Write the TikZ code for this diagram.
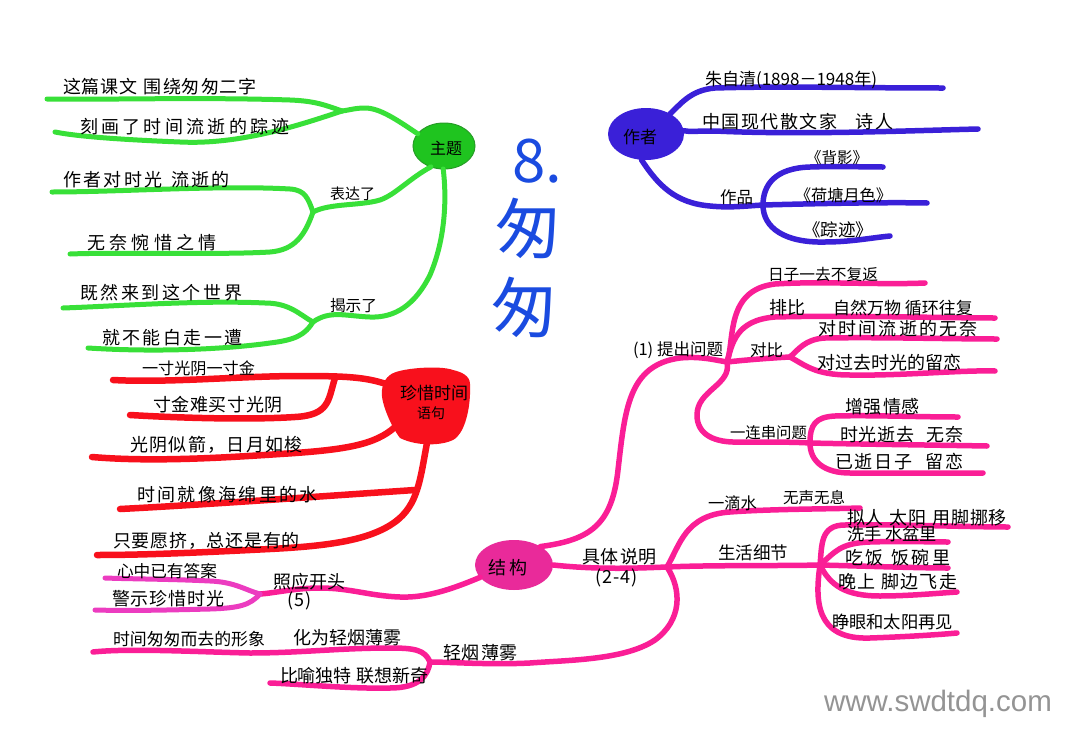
\documentclass[tikz,border=0pt]{standalone}
\usepackage{fontspec}
\usepackage{graphicx}
\setmainfont{Noto Sans CJK SC}
\newfontfamily\wmfont{Liberation Sans}
\usetikzlibrary{shapes.geometric}
\definecolor{grn}{HTML}{38E038}
\definecolor{grnd}{HTML}{1FC41F}
\definecolor{pur}{HTML}{3A20D8}
\definecolor{redc}{HTML}{F8101C}
\definecolor{pnk}{HTML}{FA1E96}
\definecolor{pnkb}{HTML}{E92A9A}
\definecolor{mag}{HTML}{EC3CC0}
\definecolor{ttl}{HTML}{1A4BE0}
\tikzset{
  gb/.style={draw=grn,line width=5pt,line cap=round,line join=round},
  ub/.style={draw=pur,line width=5.5pt,line cap=round,line join=round},
  rb/.style={draw=redc,line width=6.5pt,line cap=round,line join=round},
  pb/.style={draw=pnk,line width=5.5pt,line cap=round,line join=round},
  mb/.style={draw=mag,line width=5pt,line cap=round,line join=round},
  lab/.style={anchor=west,inner sep=0pt,outer sep=0pt,text=black},
  hub/.style={ellipse,inner sep=0pt,outer sep=0pt,text=black},
  titletext/.style={text=ttl,inner sep=0pt,font=\fontsize{66}{66}\selectfont},
}
\newsavebox{\lblbox}
\newcommand{\lblfont}{\fontsize{18}{18}\selectfont}
\def\spr#1{\ifx#1\relax\unskip\else#1\hfil\expandafter\spr\fi}
\newcommand{\lbl}[5]{%
  \pgfmathsetlengthmacro{\lblw}{#3-#2}%
  \node[lab] (#1) at (#2,#4) {\lblfont\sbox{\lblbox}{\spr#5\relax}%
    \ifdim\wd\lblbox>\lblw\relax
      \resizebox{\lblw}{!}{\usebox{\lblbox}}%
    \else
      \makebox[\lblw][s]{\spr#5\relax}%
    \fi};}
\begin{document}
\begin{tikzpicture}[x=1pt,y=-1pt]
\useasboundingbox (0,0) rectangle (1080,747);
\fill[white] (0,0) rectangle (1080,747);

% hubs
\node[hub,fill=grnd,draw=grn!70!black,line width=1pt,minimum width=62pt,minimum height=46pt] (zt) at (444,146) {};
\node[hub,fill=pur,minimum width=76pt,minimum height=52pt] (zz) at (646,134) {};
\node[hub,fill=pnkb,minimum width=78pt,minimum height=50pt] (jg) at (514,565) {};
\fill[redc] (390,375) .. controls (398,368) and (440,365) .. (453,370)
  .. controls (462,372) and (470,376) .. (470,384)
  .. controls (471,405) and (466,428) .. (457,437)
  .. controls (450,445) and (420,448) .. (400,438)
  .. controls (390,425) and (380,400) .. (382,390)
  .. controls (383,382) and (386,378) .. (390,375) -- cycle;
\node[inner sep=0pt,minimum width=86pt,minimum height=76pt] (zx) at (426,406) {};

% junctions
\coordinate (g1) at (342,111);
\coordinate (g2) at (313,212);
\coordinate (g3) at (313,322);
\coordinate (u1) at (763,205);
\coordinate (p1) at (727,362);
\coordinate (p2) at (790,357);
\coordinate (p3) at (810,443);
\coordinate (p4) at (667,567);
\coordinate (p5) at (820,565);
\coordinate (m1) at (260,594);
\coordinate (p6) at (430,662);
\coordinate (r1) at (335,378);
\coordinate (r2) at (415,490);
\coordinate (ra) at (386,384);
\coordinate (rb1) at (395,427);
\coordinate (rc) at (427,443);

% free ends
\coordinate (ge1) at (47,99);
\coordinate (ge2) at (55,132);
\coordinate (ge3) at (52,192);
\coordinate (ge4) at (70,254);
\coordinate (ge5) at (63,308);
\coordinate (ge6) at (88,348);
\coordinate (ue1) at (943,88);
\coordinate (ue2) at (978,129);
\coordinate (ue3) at (883,167);
\coordinate (ue4) at (927,203);
\coordinate (ue5) at (890,236);
\coordinate (pe1) at (925,283);
\coordinate (pe2) at (995,318);
\coordinate (pe3) at (997,339);
\coordinate (pe4) at (995,371);
\coordinate (pe5) at (958,417);
\coordinate (pe6) at (987,446);
\coordinate (pe7) at (983,473);
\coordinate (pe8) at (860,508);
\coordinate (pe9) at (1008,527);
\coordinate (pe10) at (948,542);
\coordinate (pe11) at (948,568);
\coordinate (pe12) at (957,592);
\coordinate (pe13) at (957,633);
\coordinate (pe14) at (105,578);
\coordinate (pe15) at (95,610);
\coordinate (pe16) at (93,652);
\coordinate (pe17) at (270,683);
\coordinate (re1) at (113,380);
\coordinate (re2) at (130,415);
\coordinate (re3) at (92,457);
\coordinate (re4) at (120,509);
\coordinate (re5) at (97,555);

% green connectors
\draw[gb] (zt.155) .. controls (397,120) and (380,108) .. (365,108) .. controls (355,108) and (350,110) .. (g1);
\draw[gb] (g1) .. controls (325,105) and (315,101) .. (290,100) .. controls (200,97) and (100,100) .. (ge1);
\draw[gb] (g1) .. controls (300,125) and (240,145) .. (180,142) .. controls (130,140) and (80,137) .. (ge2);
\draw[gb] (zt.238) .. controls (410,178) and (395,195) .. (380,200) .. controls (360,206) and (330,203) .. (g2);
\draw[gb] (g2) .. controls (308,198) and (305,190) .. (290,189) .. controls (220,185) and (120,192) .. (ge3);
\draw[gb] (g2) .. controls (305,235) and (295,250) .. (270,252) .. controls (220,255) and (120,252) .. (ge4);
\draw[gb] (zt.268) .. controls (447,200) and (445,240) .. (430,275) .. controls (415,305) and (395,318) .. (370,317) .. controls (345,316) and (330,310) .. (g3);
\draw[gb] (g3) .. controls (300,315) and (290,303) .. (265,303) .. controls (200,300) and (120,306) .. (ge5);
\draw[gb] (g3) .. controls (305,335) and (295,340) .. (270,343) .. controls (220,350) and (150,352) .. (ge6);

% purple connectors
\draw[ub] (zz.40) .. controls (680,105) and (690,90) .. (715,88) .. controls (780,86) and (860,88) .. (ue1);
\draw[ub] (zz.5) .. controls (690,132) and (695,131) .. (715,131) .. controls (800,135) and (900,131) .. (ue2);
\draw[ub] (zz.260) .. controls (658,185) and (675,203) .. (710,206) .. controls (730,208) and (745,206) .. (u1);
\draw[ub] (u1) .. controls (763,185) and (775,168) .. (810,167) .. controls (840,166) and (860,167) .. (ue3);
\draw[ub] (u1) .. controls (800,204) and (880,202) .. (ue4);
\draw[ub] (u1) .. controls (763,228) and (785,243) .. (825,242) .. controls (850,242) and (870,238) .. (ue5);

% pink connectors
\draw[pb] (jg.35) .. controls (590,540) and (612,525) .. (618,470) .. controls (625,410) and (628,365) .. (680,358) .. controls (700,356) and (715,360) .. (p1);
\draw[pb] (p1) .. controls (735,340) and (725,290) .. (775,284) .. controls (820,281) and (880,285) .. (pe1);
\draw[pb] (p1) .. controls (732,345) and (735,320) .. (775,317) .. controls (850,315) and (940,318) .. (pe2);
\draw[pb] (p1) .. controls (745,360) and (770,358) .. (p2);
\draw[pb] (p2) .. controls (798,350) and (805,339) .. (825,338) .. controls (880,337) and (950,339) .. (pe3);
\draw[pb] (p2) .. controls (805,365) and (815,375) .. (850,375) .. controls (900,376) and (960,370) .. (pe4);
\draw[pb] (p1) .. controls (732,385) and (697,390) .. (697,415) .. controls (697,435) and (715,443) .. (740,442) .. controls (770,442) and (795,442) .. (p3);
\draw[pb] (p3) .. controls (810,425) and (815,417) .. (835,416) .. controls (870,415) and (920,417) .. (pe5);
\draw[pb] (p3) .. controls (850,444) and (930,445) .. (pe6);
\draw[pb] (p3) .. controls (810,462) and (825,473) .. (850,473) .. controls (890,473) and (950,473) .. (pe7);
\draw[pb] (jg.0) .. controls (600,570) and (640,568) .. (p4);
\draw[pb] (p4) .. controls (680,545) and (685,515) .. (730,512) .. controls (770,509) and (830,509) .. (pe8);
\draw[pb] (p4) .. controls (710,565) and (780,566) .. (p5);
\draw[pb] (p5) .. controls (822,545) and (820,525) .. (845,525) .. controls (890,524) and (970,527) .. (pe9);
\draw[pb] (p5) .. controls (835,552) and (840,543) .. (870,542) .. controls (900,541) and (930,542) .. (pe10);
\draw[pb] (p5) .. controls (860,566) and (920,568) .. (pe11);
\draw[pb] (p5) .. controls (830,585) and (845,596) .. (880,596) .. controls (910,596) and (940,593) .. (pe12);
\draw[pb] (p5) .. controls (815,600) and (815,640) .. (870,638) .. controls (900,637) and (935,635) .. (pe13);
\draw[pb] (p4) .. controls (682,590) and (682,620) .. (655,640) .. controls (625,660) and (570,660) .. (530,663) .. controls (490,665) and (450,662) .. (p6);
\draw[pb] (jg.200) .. controls (450,590) and (425,598) .. (400,597) .. controls (370,596) and (350,588) .. (320,588) .. controls (295,588) and (275,593) .. (m1);
\draw[mb] (m1) .. controls (245,590) and (235,582) .. (210,581) .. controls (170,579) and (130,579) .. (pe14);
\draw[mb] (m1) .. controls (250,605) and (240,608) .. (210,609) .. controls (170,610) and (130,611) .. (pe15);
\draw[pb] (p6) .. controls (425,650) and (415,648) .. (390,648) .. controls (340,648) and (300,653) .. (250,653) .. controls (200,652) and (130,648) .. (pe16);
\draw[pb] (p6) .. controls (428,675) and (420,688) .. (390,688) .. controls (350,689) and (300,684) .. (pe17);

% red connectors
\draw[rb] (ra) .. controls (365,377) and (345,376) .. (300,376) .. controls (240,376) and (170,383) .. (re1);
\draw[rb] (r1) .. controls (328,400) and (330,415) .. (295,417) .. controls (250,420) and (180,418) .. (re2);
\draw[rb] (rb1) .. controls (375,445) and (345,450) .. (280,454) .. controls (220,458) and (150,462) .. (re3);
\draw[rb] (rc) .. controls (420,480) and (418,505) .. (395,522) .. controls (370,540) and (330,546) .. (270,549) .. controls (210,552) and (150,555) .. (re5);
\draw[rb] (r2) .. controls (340,495) and (200,505) .. (re4);

% hub labels
\lbl{tzt}{430}{462}{148}{主题}
\lbl{tzz}{623}{657}{137}{作者}
\lbl{tjg}{488}{528}{568}{结构}
\lbl{tzx1}{400}{468}{393}{珍惜时间}
\lbl{tzx2}{417}{445}{413}{语句}

% green labels
\lbl{a1}{63}{257}{87}{这篇课文~围绕匆匆二字}
\lbl{a2}{80}{290}{127}{刻画了时间流逝的踪迹}
\lbl{a3}{63}{230}{180}{作者对时光~流逝的}
\lbl{a4}{87}{217}{243}{无奈惋惜之情}
\lbl{a5}{80}{242}{293}{既然来到这个世界}
\lbl{a6}{102}{243}{338}{就不能白走一遭}
\lbl{a7}{330}{375}{194}{表达了}
\lbl{a8}{330}{377}{306}{揭示了}

% purple labels
\lbl{b1}{705}{877}{80}{朱自清(1898－1948年)}
\lbl{b2}{702}{893}{122}{中国现代散文家~~~诗人}
\lbl{b3}{720}{753}{197}{作品}
\lbl{b4}{806}{868}{158}{《背影》}
\lbl{b5}{795}{892}{195}{《荷塘月色》}
\lbl{b6}{803}{873}{230}{《踪迹》}

% pink labels, upper
\lbl{c1}{768}{878}{275}{日子一去不复返}
\lbl{c2}{633}{723}{350}{(1)~提出问题}
\lbl{c3}{769}{805}{308}{排比}
\lbl{c4}{833}{973}{308}{自然万物~循环往复}
\lbl{c5}{750}{783}{350}{对比}
\lbl{c6}{818}{978}{329}{对时间流逝的无奈}
\lbl{c7}{817}{962}{363}{对过去时光的留恋}
\lbl{c8}{730}{807}{433}{一连串问题}
\lbl{c9}{845}{920}{407}{增强情感}
\lbl{c10}{840}{963}{435}{时光逝去~~无奈}
\lbl{c11}{835}{963}{462}{已逝日子~~留恋}

% pink labels, lower
\lbl{d1}{582}{657}{557}{具体说明}
\lbl{d2}{595}{638}{578}{(2-4)}
\lbl{d3}{708}{757}{503}{一滴水}
\lbl{d4}{783}{845}{498}{无声无息}
\lbl{d5}{718}{788}{553}{生活细节}
\lbl{d6}{847}{1007}{518}{拟人~太阳~用脚挪移}
\lbl{d7}{847}{937}{534}{洗手~水盆里}
\lbl{d8}{845}{950}{558}{吃饭~饭碗里}
\lbl{d9}{838}{957}{582}{晚上~脚边飞走}
\lbl{d10}{832}{953}{622}{睁眼和太阳再见}
\lbl{e1}{117}{217}{571}{心中已有答案}
\lbl{e2}{112}{225}{599}{警示珍惜时光}
\lbl{e3}{273}{345}{582}{照应开头}
\lbl{e4}{287}{312}{601}{(5)}
\lbl{e5}{113}{265}{639}{时间匆匆而去的形象}
\lbl{e6}{293}{402}{638}{化为轻烟薄雾}
\lbl{e7}{280}{428}{676}{比喻独特~联想新奇}
\lbl{e8}{443}{518}{653}{轻烟薄雾}

% red labels
\lbl{f1}{142}{255}{368}{一寸光阴一寸金}
\lbl{f2}{153}{283}{405}{寸金难买寸光阴}
\lbl{f3}{130}{303}{445}{光阴似箭，日月如梭}
\lbl{f4}{137}{318}{495}{时间就像海绵里的水}
\lbl{f5}{113}{300}{541}{只要愿挤，总还是有的}

% title
\node[text=ttl,inner sep=0pt,font=\fontsize{60}{60}\selectfont] (t8) at (537,161) {8.};
\node[titletext] (t1) at (528,228) {匆};
\node[titletext] (t2) at (524,307) {匆};

% site mark
\node[inner sep=0pt,text=black!42,font=\wmfont\fontsize{29.5}{30}\selectfont] (wm) at (938,704) {www.swdtdq.com};
\end{tikzpicture}
\end{document}
